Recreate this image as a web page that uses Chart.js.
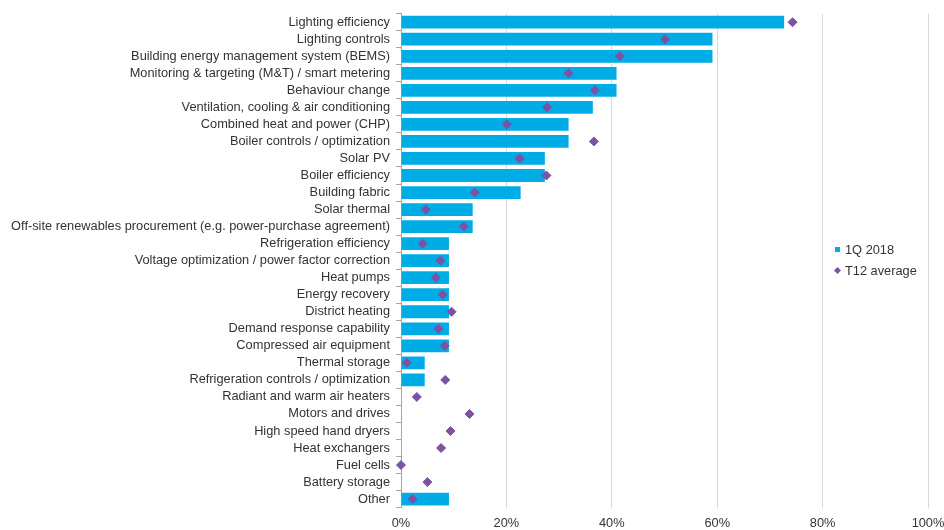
<!DOCTYPE html>
<html><head><meta charset="utf-8">
<script src="https://cdn.jsdelivr.net/npm/chart.js@4.4.1/dist/chart.umd.min.js"></script>
<style>
html,body{margin:0;padding:0;background:#fff;}
#wrap{position:relative;width:944px;height:530px;}
#legend{position:absolute;left:832px;top:239px;font:12.8px "Liberation Sans",Arial,sans-serif;color:#333;line-height:21px;}
#legend .it{display:flex;align-items:center;white-space:nowrap;}
#legend .sq{display:inline-block;width:5px;height:5px;margin:0 5px 0 3px;}
#legend .dm{display:inline-block;width:5px;height:5px;margin:0 5px 0 3px;transform:rotate(45deg);}
</style></head><body>
<div id="wrap"><canvas id="c"></canvas><div id="legend"></div></div>
<script>
const categories = [
  "Lighting efficiency",
  "Lighting controls",
  "Building energy management system (BEMS)",
  "Monitoring & targeting (M&T) / smart metering",
  "Behaviour change",
  "Ventilation, cooling & air conditioning",
  "Combined heat and power (CHP)",
  "Boiler controls / optimization",
  "Solar PV",
  "Boiler efficiency",
  "Building fabric",
  "Solar thermal",
  "Off-site renewables procurement (e.g. power-purchase agreement)",
  "Refrigeration efficiency",
  "Voltage optimization / power factor correction",
  "Heat pumps",
  "Energy recovery",
  "District heating",
  "Demand response capability",
  "Compressed air equipment",
  "Thermal storage",
  "Refrigeration controls / optimization",
  "Radiant and warm air heaters",
  "Motors and drives",
  "High speed hand dryers",
  "Heat exchangers",
  "Fuel cells",
  "Battery storage",
  "Other"
];
const q1_2018 = [72.7, 59.1, 59.1, 40.9, 40.9, 36.4, 31.8, 31.8, 27.3, 27.3, 22.7, 13.6, 13.6, 9.1, 9.1, 9.1, 9.1, 9.1, 9.1, 9.1, 4.5, 4.5, 0, 0, 0, 0, 0, 0, 9.1];
const t12Average = [74.3, 50.1, 41.5, 31.8, 36.8, 27.7, 20.1, 36.6, 22.5, 27.6, 14.0, 4.7, 11.9, 4.1, 7.5, 6.6, 7.9, 9.6, 7.1, 8.3, 1.1, 8.4, 3.0, 13.0, 9.4, 7.6, 0, 5.0, 2.2];
const xTicks = [0, 20, 40, 60, 80, 100];
const seriesNames = ["1Q 2018", "T12 average"];
const barColor = "#00ACE6";
const pointColor = "#7D52A3";

const FONT = '"Liberation Sans", Arial, sans-serif';
const chart = new Chart(document.getElementById('c'), {
  type: 'bar',
  data: {
    labels: categories,
    datasets: [
      { label: seriesNames[0], data: q1_2018, backgroundColor: barColor, indexAxis: 'y',
        barPercentage: 0.75, categoryPercentage: 1, order: 2 },
      { type: 'line', label: seriesNames[1], data: t12Average, indexAxis: 'y', showLine: false,
        pointStyle: 'rectRot', pointRadius: 4.5, pointHoverRadius: 4.5,
        pointBackgroundColor: pointColor, pointBorderColor: pointColor, borderColor: pointColor,
        backgroundColor: pointColor, clip: false, order: 1 }
    ]
  },
  options: {
    indexAxis: 'y',
    responsive: true,
    maintainAspectRatio: false,
    animation: false,
    layout: { padding: { top: 12, bottom: -9, left: 0, right: 0 } },
    plugins: { legend: { display: false }, tooltip: { enabled: false } },
    scales: {
      x: {
        min: 0, max: 100,
        afterBuildTicks: (s) => { s.ticks = xTicks.map(v => ({ value: v })); },
        afterFit: (s) => { s.paddingRight = 16; s.paddingLeft = 0; },
        grid: { color: '#d9d9d9', drawTicks: false },
        border: { display: false },
        ticks: { padding: 8, color: '#333', font: { family: FONT, size: 12.8 }, callback: v => v + '%' }
      },
      y: {
        afterFit: (s) => { s.width = 401; },
        grid: { offset: true, drawOnChartArea: false, tickLength: 5, color: '#a6a6a6' },
        border: { display: true, color: '#a6a6a6' },
        ticks: { padding: 6, color: '#333', font: { family: FONT, size: 12.8 }, autoSkip: false }
      }
    }
  }
});

const lg = document.getElementById('legend');
seriesNames.forEach((n, i) => {
  const d = document.createElement('div'); d.className = 'it';
  const m = document.createElement('span'); m.className = i === 0 ? 'sq' : 'dm';
  m.style.background = i === 0 ? barColor : pointColor;
  const t = document.createElement('span'); t.textContent = n;
  d.appendChild(m); d.appendChild(t); lg.appendChild(d);
});
</script>
</body></html>
